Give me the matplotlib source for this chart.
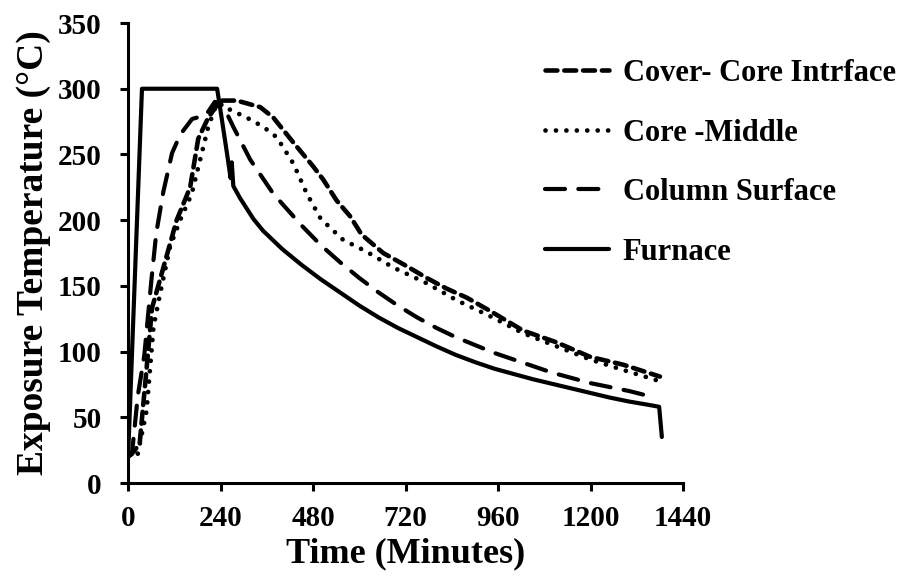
import matplotlib
matplotlib.use('Agg')
import matplotlib.pyplot as plt

plt.rcParams['font.family'] = ['Liberation Serif', 'DejaVu Serif']
plt.rcParams['font.weight'] = 'bold'

# Furnace temperature (minutes, degC)
furnace_t = [0, 36, 231, 240, 256, 266, 269, 273, 290, 325, 350, 400, 450, 500, 550,
             600, 650, 700, 750, 800, 850, 900, 950, 1000, 1050, 1100, 1150, 1200,
             1250, 1300, 1350, 1378, 1385]
furnace_y = [20, 300, 300, 283, 252, 232, 244, 226, 217, 201, 192, 178, 166, 155, 145,
             135, 126, 118, 111, 104, 97.5, 92, 87, 83, 79, 75.5, 72, 68.5,
             65, 62, 59.5, 58, 35]

# Column surface
surface_t = [0, 10, 25, 42, 60, 73, 91, 114, 135, 166, 202, 225, 240, 255, 273, 317, 377,
             450, 500, 550, 600, 650, 700, 750, 800, 850, 900, 950, 1000, 1050, 1100,
             1150, 1200, 1250, 1300, 1367]
surface_y = [20, 22, 66, 97, 153, 190, 221, 251, 265, 277, 280, 290, 289, 282, 271, 246, 220,
             196, 181, 168, 156, 145, 135, 126, 118, 111, 105, 99, 94, 89, 84,
             80, 76, 73, 70, 65]

# Core - middle
middle_t = [0, 10, 25, 48, 66, 83, 109, 135, 165, 187, 208, 230, 265, 308, 351, 386, 429,
            464, 500, 558, 619, 688, 775, 853, 939, 1025, 1112, 1199, 1285, 1385]
middle_y = [22, 23, 22, 55, 119, 144, 180, 200, 220, 246, 271, 289, 284, 278, 271, 263, 243,
            220, 201, 185, 176, 164, 152, 139, 127, 114, 104, 94, 86, 77]

# Cover - core interface
cover_t = [0, 15, 30, 47, 62, 126, 161, 182, 208, 239, 282, 343, 377, 429, 480, 506, 541,
           576, 606, 662, 723, 775, 826, 879, 939, 1025, 1112, 1199, 1285, 1380]
cover_y = [20, 24, 30, 84, 133, 200, 225, 262, 278, 291, 291, 286, 278, 259, 241, 231, 215,
           203, 189, 175, 165, 156, 148, 141, 131, 116, 107, 96, 90, 81]

x_ticks = [0, 240, 480, 720, 960, 1200, 1440]
y_ticks = [0, 50, 100, 150, 200, 250, 300, 350]

fig = plt.figure(figsize=(9.15, 5.83), dpi=100)
ax = fig.add_axes([0.140, 0.1715, 0.6065, 0.789])

ax.plot(cover_t, cover_y, color='black', lw=3.3, dashes=(2.6, 1.5),
        dash_capstyle='round', label='Cover- Core Intrface')
ax.plot(middle_t, middle_y, color='black', lw=3.4, dashes=(0.01, 2.2),
        dash_capstyle='round', label='Core -Middle')
ax.plot(surface_t, surface_y, color='black', lw=3.0, dashes=(4.8, 3.2),
        dash_capstyle='round', label='Column Surface')
ax.plot(furnace_t, furnace_y, color='black', lw=3.0, solid_capstyle='round',
        solid_joinstyle='round', label='Furnace')

ax.set_xlim(0, 1440)
ax.set_ylim(0, 350)
ax.set_xticks(x_ticks)
ax.set_yticks(y_ticks)

for side in ['top', 'right']:
    ax.spines[side].set_visible(False)
for side in ['left', 'bottom']:
    ax.spines[side].set_linewidth(2.2)
ax.tick_params(direction='out', length=6, width=2.2, labelsize=21)
ax.tick_params(axis='x', pad=10)
ax.tick_params(axis='y', pad=13)

ax.set_xlabel('Time (Minutes)', fontsize=26, fontweight='bold', labelpad=4)
ax.set_ylabel('Exposure Temperature (°C)', fontsize=27, fontweight='bold', labelpad=5)

fig.legend(loc='upper left', bbox_to_anchor=(545 / 915, 1 - 59 / 583),
           frameon=False, fontsize=22, handlelength=2.1, handletextpad=0.45,
           labelspacing=1.0, borderpad=0, borderaxespad=0)

fig.savefig('out.png', dpi=100)
